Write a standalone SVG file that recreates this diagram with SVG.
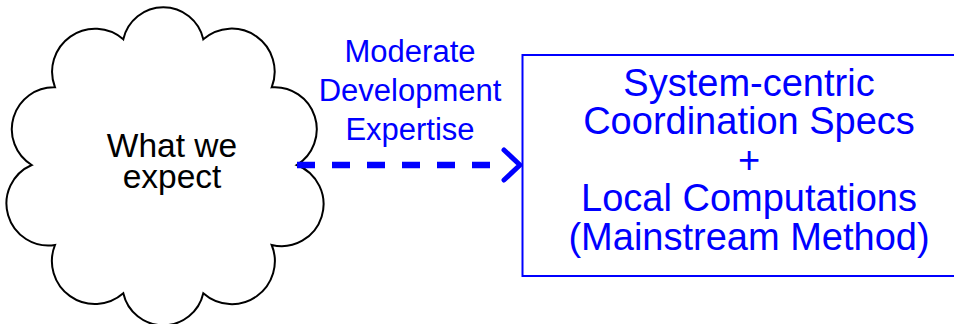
<svg xmlns="http://www.w3.org/2000/svg" width="954" height="324" viewBox="0 0 954 324">
  <style>
    .cloud { fill: #ffffff; stroke: #000000; stroke-width: 2; }
    .box { fill: #ffffff; stroke: #0000ff; stroke-width: 2; }
    .t { font-family: "Liberation Sans", Arial, Helvetica, sans-serif; text-anchor: middle; }
    .black { fill: #000000; font-size: 33.5px; }
    .blue { fill: #0000ff; }
    .lbl { font-size: 31px; }
    .boxt { font-size: 38px; }
    .edge { fill: none; stroke: #0000ff; stroke-width: 6.5; stroke-dasharray: 18 17; }
    .head { fill: none; stroke: #0000ff; stroke-width: 5; stroke-linecap: round; stroke-linejoin: round; }
  </style>
  <defs>
    <marker id="chev" markerUnits="userSpaceOnUse" viewBox="-4 -4 26 38" markerWidth="26" markerHeight="38" refX="0" refY="15" orient="auto" overflow="visible">
      <path class="head" d="M1,0 L17,15 L1,30"/>
    </marker>
  </defs>
  <rect width="954" height="324" fill="#ffffff"/>
  <g id="cloud-node">
    <path class="cloud" d="M123.3,39.3 A41,41 0 0 1 203.3,39.3 A43,43 0 0 1 271.7,87.3 A42,42 0 0 1 296.7,165 A42,42 0 0 1 271.7,245 A43,43 0 0 1 203.3,293.3 A41,41 0 0 1 123.3,293.3 A43,43 0 0 1 55,245 A42,42 0 0 1 31.7,165 A42,42 0 0 1 55,87.3 A43,43 0 0 1 123.3,39.3 Z"/>
    <text class="t black" x="172" y="156.5">What we</text>
    <text class="t black" x="172" y="187.5">expect</text>
  </g>
  <g id="box-node">
    <rect class="box" x="522.5" y="55" width="440" height="221"/>
    <text class="t blue boxt" x="749" y="95.5">System-centric</text>
    <text class="t blue boxt" x="749" y="134">Coordination Specs</text>
    <text class="t blue boxt" x="749" y="172.5">+</text>
    <text class="t blue boxt" x="749" y="211">Local Computations</text>
    <text class="t blue boxt" x="749" y="249.5">(Mainstream Method)</text>
  </g>
  <g id="connectors">
    <path class="edge" d="M297,165 L503,165" marker-end="url(#chev)"/>
    <g id="edge-label">
      <text class="t blue lbl" x="410" y="62">Moderate</text>
      <text class="t blue lbl" x="410" y="101">Development</text>
      <text class="t blue lbl" x="410" y="140">Expertise</text>
    </g>
  </g>
</svg>
